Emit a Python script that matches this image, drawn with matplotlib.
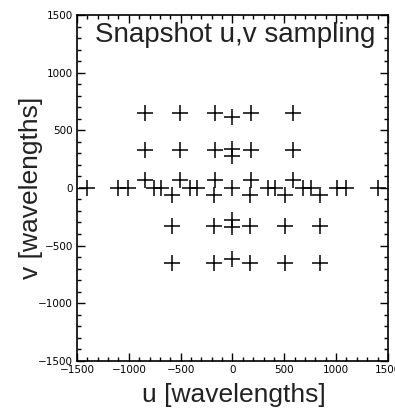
import matplotlib
matplotlib.use("Agg")
import matplotlib.pyplot as plt
from matplotlib.ticker import MultipleLocator

# u,v sample positions (wavelengths)
u_top = [-845, -510, -165, 0, 178, 580]
v_top = [650, 650, 650, 615, 650, 650]

u_upper = [-845, -510, -165, 0, 0, 178, 580]
v_upper = [330, 330, 330, 335, 275, 330, 330]

u_mid = [-1400, -1100, -1010, -755, -685, -410, -340, 0,
         340, 410, 685, 755, 1010, 1100, 1400]
v_mid = [0] * len(u_mid)

u_mid_hi = [-845, -510, -165, 178, 580]
v_mid_hi = [65, 65, 65, 65, 65]
u_mid_lo = [-580, -178, 165, 510, 845]
v_mid_lo = [-65, -65, -65, -65, -65]

u_lower = [-580, -178, 0, 0, 165, 510, 845]
v_lower = [-330, -330, -275, -335, -330, -330, -330]

u_bot = [-580, -178, 0, 165, 510, 845]
v_bot = [-650, -650, -615, -650, -650, -650]

groups = [(u_top, v_top), (u_upper, v_upper), (u_mid, v_mid),
          (u_mid_hi, v_mid_hi), (u_mid_lo, v_mid_lo),
          (u_lower, v_lower), (u_bot, v_bot)]

fig = plt.figure(figsize=(3.95, 4.19), dpi=100)
ax = fig.add_axes([0.195, 0.139, 0.787, 0.825])

for u, v in groups:
    ax.plot(u, v, linestyle="none", marker="+", color="black",
            markersize=11, markeredgewidth=1.1)

ax.set_xlim(-1500, 1500)
ax.set_ylim(-1500, 1500)
ax.xaxis.set_major_locator(MultipleLocator(500))
ax.yaxis.set_major_locator(MultipleLocator(500))
ax.xaxis.set_minor_locator(MultipleLocator(100))
ax.yaxis.set_minor_locator(MultipleLocator(100))
ax.tick_params(which="both", direction="in", top=True, right=True,
               labelsize=7.5, width=1, pad=3)
ax.tick_params(which="major", length=6)
ax.tick_params(which="minor", length=3)
for s in ax.spines.values():
    s.set_linewidth(1.2)

lab = dict(family=["Liberation Sans", "DejaVu Sans"], fontsize=19,
           color="#222222")
ax.text(0.51, 0.922, "Snapshot u,v sampling", transform=ax.transAxes,
        ha="center", va="baseline", fontsize=20, color="#222222",
        family=["Liberation Sans", "DejaVu Sans"])
ax.set_xlabel("u [wavelengths]", **lab)
ax.set_ylabel("v [wavelengths]", **lab)
ax.xaxis.set_label_coords(0.505, -0.064)
ax.yaxis.set_label_coords(-0.109, 0.5)

fig.savefig("out.png", dpi=100)
